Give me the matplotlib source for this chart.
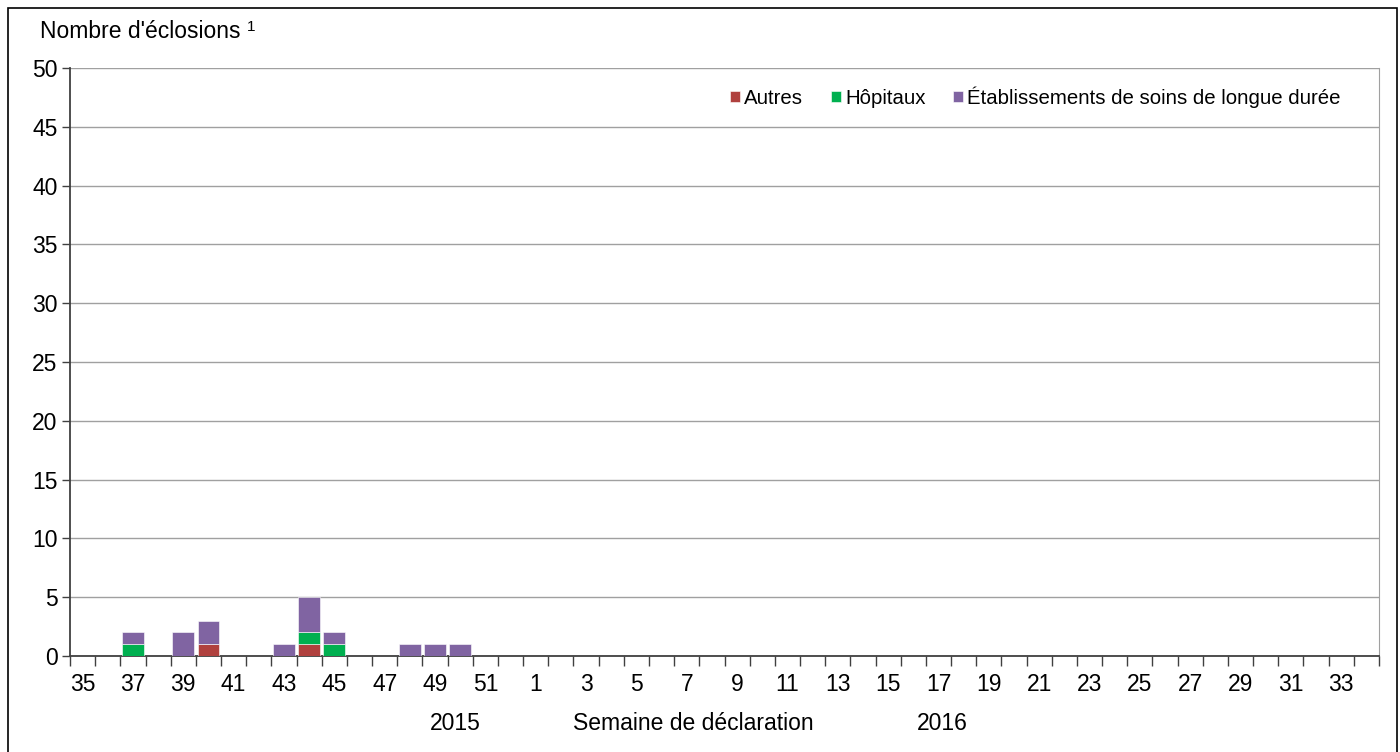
import numpy as np
import matplotlib.pyplot as plt
from matplotlib.patches import Rectangle

plt.rcParams['font.family'] = ['Liberation Sans', 'DejaVu Sans']

# Reporting weeks: 2015 weeks 35-52, then 2016 weeks 1-34
weeks = list(range(35, 53)) + list(range(1, 35))

# Outbreak counts per week (stacked)
autres = [0, 0, 0, 0, 0, 1, 0, 0, 0, 1, 0] + [0] * 41
hopitaux = [0, 0, 1, 0, 0, 0, 0, 0, 0, 1, 1] + [0] * 41
soins_longue_duree = [0, 0, 1, 0, 2, 2, 0, 0, 1, 3, 1, 0, 0, 1, 1, 1] + [0] * 36

series = [
    ('Autres', autres, '#B0413E'),
    ('Hôpitaux', hopitaux, '#00B050'),
    ('Établissements de soins de longue durée', soins_longue_duree, '#8064A2'),
]

fig = plt.figure(figsize=(14, 7.52), dpi=100)
ax = fig.add_axes([0.05, 0.1277, 0.935, 0.782])

x = np.arange(len(weeks))
bottom = np.zeros(len(weeks))
for label, vals, color in series:
    vals = np.array(vals)
    ax.bar(x, vals, width=0.86, bottom=bottom, color=color, label=label,
           edgecolor='white', linewidth=0.4, zorder=3)
    bottom += vals

ax.set_xlim(-0.5, len(weeks) - 0.5)
ax.set_ylim(0, 50)
ax.set_yticks(range(0, 51, 5))
ax.yaxis.grid(True, color='#a0a0a0', linewidth=1)
ax.set_axisbelow(True)

# labels every other week, tick marks at category boundaries
ax.set_xticks(x[::2])
ax.set_xticklabels([str(w) for w in weeks[::2]])
ax.set_xticks(np.arange(-0.5, len(weeks), 1), minor=True)
ax.tick_params(axis='x', which='major', length=0, pad=12, labelsize=16.5)
ax.tick_params(axis='x', which='minor', length=7, width=1, color='#404040')
ax.tick_params(axis='y', length=6, width=1, color='#404040', labelsize=16.5, pad=3)

for side in ['left', 'bottom']:
    ax.spines[side].set_color('#404040')
    ax.spines[side].set_linewidth(1.3)
ax.spines['right'].set_color('#a0a0a0')
ax.spines['top'].set_visible(False)

leg = ax.legend(loc='upper right', ncol=3, frameon=False, fontsize=14.7,
                handlelength=0.5, handleheight=0.5, handletextpad=0.2,
                columnspacing=1.35, bbox_to_anchor=(0.985, 1.0))

fig.text(40 / 1400, 1 - 31 / 752, "Nombre d'éclosions", fontsize=16.5, va='center')
fig.text(247 / 1400, 1 - 27 / 752, "1", fontsize=11, va='center')
fig.text(455 / 1400, 1 - 724 / 752, '2015', fontsize=16.5, ha='center', va='center')
fig.text(693 / 1400, 1 - 724 / 752, 'Semaine de déclaration', fontsize=16.5, ha='center', va='center')
fig.text(942 / 1400, 1 - 724 / 752, '2016', fontsize=16.5, ha='center', va='center')

fig.patches.append(Rectangle((8 / 1400, -0.05), 1389 / 1400, 1.05 - 7.5 / 752,
                             transform=fig.transFigure, fill=False,
                             edgecolor='black', linewidth=1.2))

fig.savefig('out.png', dpi=100)
